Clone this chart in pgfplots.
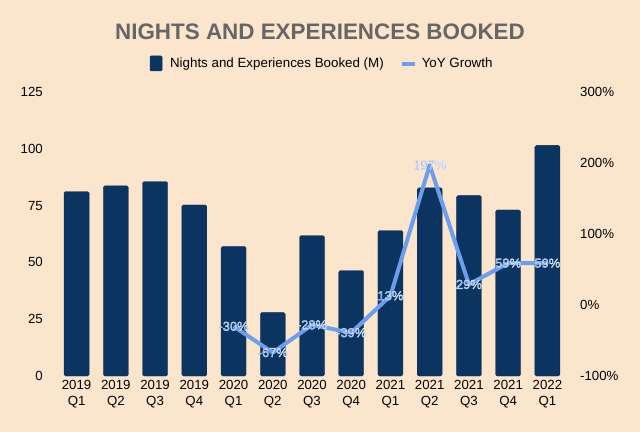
\documentclass[border=0pt]{standalone}
\usepackage{pgfplots}
\pgfplotsset{compat=1.18}
\usepackage{fontspec}
\setmainfont{Liberation Sans}
\definecolor{bg}{HTML}{FCE5CD}
\definecolor{navy}{HTML}{0B3560}
\definecolor{lineblue}{HTML}{6D9EEB}
\definecolor{titlegray}{HTML}{666666}
\newcommand\halo[1]{\textcolor{lineblue}{\special{pdf:code q 2 Tr 0.28 w 0.93 0.95 1 RG 1 j}#1\special{pdf:code Q}}}
\pgfplotstableread{
x v
0 81.2
1 83.7
2 85.6
3 75.3
4 57.0
5 27.9
6 61.8
7 46.4
8 64.0
9 82.8
10 79.4
11 73.1
12 101.5
}\bars
\pgfplotstableread{
x g
4 -30
5 -67
6 -28
7 -39
8 13
9 197
10 29
11 59
12 59
}\growth
\begin{document}
\begin{tikzpicture}
\fill[bg] (0bp,0bp) rectangle (640bp,432bp);
\node[font=\fontsize{22.5}{26}\selectfont\bfseries, text=titlegray] at (320bp,400bp) {NIGHTS AND EXPERIENCES BOOKED};
\begin{axis}[
  at={(57bp,56bp)}, anchor=south west,
  scale only axis, width=510bp, height=284bp,
  xmin=-0.5, xmax=12.5, ymin=0, ymax=125,
  ytick={0,25,...,125},
  xtick={0,...,12},
  xticklabels={{2019\\Q1},{2019\\Q2},{2019\\Q3},{2019\\Q4},{2020\\Q1},{2020\\Q2},{2020\\Q3},{2020\\Q4},{2021\\Q1},{2021\\Q2},{2021\\Q3},{2021\\Q4},{2022\\Q1}},
  xticklabel style={align=center, font=\fontsize{13.3}{16}\selectfont, inner sep=0pt, yshift=-4bp},
  yticklabel style={font=\fontsize{13.3}{16}\selectfont, inner sep=0pt, anchor=east, xshift=-14bp},
  /pgf/number format/assume math mode=true,
  axis line style={draw=none},
  major tick length=0pt,
  ybar, bar width=25bp,
  clip=false,
]
\addplot[fill=navy, draw=navy!80!black, line width=0.3bp, rounded corners=1.5bp] table[x=x,y=v]{\bars};
\end{axis}
\begin{axis}[
  at={(57bp,56bp)}, anchor=south west,
  scale only axis, width=510bp, height=284bp,
  xmin=-0.5, xmax=12.5, ymin=-100, ymax=300,
  axis y line*=right, axis x line=none,
  ytick={-100,0,...,300},
  yticklabel={\pgfmathprintnumber{\tick}\%},
  yticklabel style={font=\fontsize{13.3}{16}\selectfont, inner sep=0pt, anchor=west, xshift=13bp},
  /pgf/number format/assume math mode=true,
  axis line style={draw=none},
  major tick length=0pt,
  clip=false,
  legend style={at={(0.52,1.1)}, anchor=center, draw=none, fill=none, font=\fontsize{13.4}{16}\selectfont, legend columns=2, /tikz/every even column/.append style={column sep=14bp}},
]
\addlegendimage{legend image code/.code={\fill[navy, rounded corners=1bp] (0bp,-7bp) rectangle (12bp,8bp); \path[draw=none,fill=none] (0bp,0bp) -- (18bp,0bp);}}
\addlegendentry{Nights and Experiences Booked (M)}
\addplot[lineblue, line width=4bp, no markers, line join=round,
  legend image code/.code={\draw[lineblue, line width=4bp] (0bp,0bp) -- (13bp,0bp); \path[draw=none,fill=none] (0bp,0bp) -- (18bp,0bp);},
  point meta=explicit,
  nodes near coords={\halo{\pgfmathprintnumber{\pgfplotspointmeta}\%}},
  every node near coord/.append style={anchor=center, font=\fontsize{13}{15}\selectfont, inner sep=0pt},
] table[x=x,y=g,meta=g]{\growth};
\addlegendentry{YoY Growth}
\end{axis}
\end{tikzpicture}
\end{document}
